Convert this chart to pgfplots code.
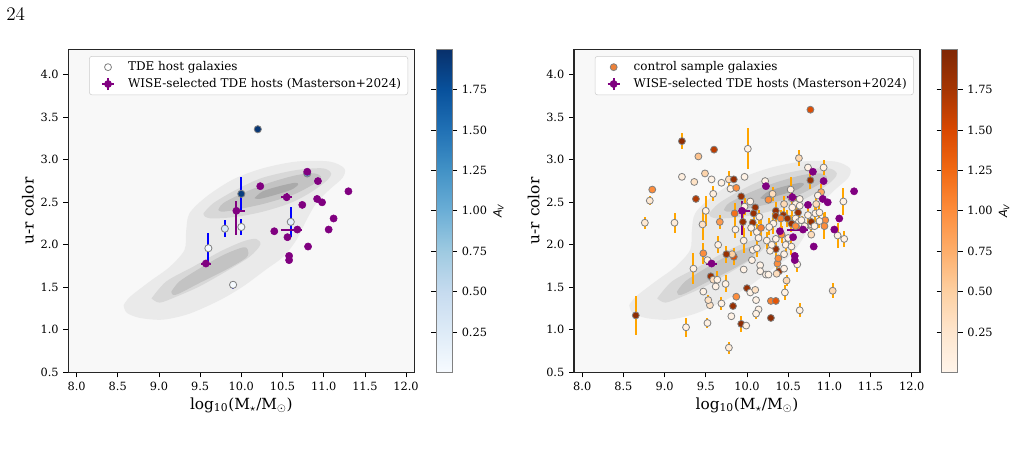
\documentclass[border=0pt]{standalone}
\usepackage{pgfplots}
\pgfplotsset{compat=1.18}
\usepackage{pgfplotstable}
\usepackage{fontspec}
\newfontfamily\dvserif{DejaVu Serif}
\newfontfamily\dvsans{DejaVu Sans}
\newcommand{\tickfont}{\dvserif\fontsize{8.5}{10}\selectfont}
\newcommand{\legfont}{\dvserif\fontsize{9.0}{11}\selectfont}
\newcommand{\labfont}{\dvserif\fontsize{11.5}{13}\selectfont}
\definecolor{wpurple}{RGB}{128,0,128}
\definecolor{bgc}{RGB}{248,248,248}
\definecolor{cA}{RGB}{234,234,234}
\definecolor{cB}{RGB}{216,216,216}
\definecolor{cC}{RGB}{195,195,195}
\definecolor{cD}{RGB}{170,170,170}
\definecolor{ctrlleg}{RGB}{236,128,56}
\definecolor{errorange}{RGB}{255,165,0}

\pgfplotsset{
  colormap={blues}{rgb255=(247,251,255) rgb255=(222,235,247) rgb255=(198,219,239) rgb255=(158,202,225) rgb255=(107,174,214) rgb255=(66,146,198) rgb255=(33,113,181) rgb255=(8,81,156) rgb255=(8,48,107)},
  colormap={oranges}{rgb255=(255,245,235) rgb255=(254,230,206) rgb255=(253,208,162) rgb255=(253,174,107) rgb255=(253,141,60) rgb255=(241,105,19) rgb255=(217,72,1) rgb255=(166,54,3) rgb255=(127,39,4)},
  colorbar shift/.style={xshift=16.3pt},
  panel/.style={
    scale only axis, width=259.5pt, height=242.25pt,
    xmin=7.9, xmax=12.1, ymin=0.5, ymax=4.3,
    xtick={8,8.5,...,12}, ytick={0.5,1,...,4},
    axis background/.style={fill=bgc},
    axis line style={black!85, line width=0.8pt},
    tick align=outside, tick pos=left,
    major tick length=3.75pt,
    tick style={black, line width=0.6pt},
    /pgf/number format/assume math mode=true,
    xticklabel style={font=\tickfont, /pgf/number format/.cd, fixed, fixed zerofill, precision=1},
    yticklabel style={font=\tickfont, /pgf/number format/.cd, fixed, fixed zerofill, precision=1},
    xlabel={log\textsubscript{10}(M\textsubscript{$\star$}/M\textsubscript{$\odot$})},
    ylabel={u-r color},
    xlabel style={font=\labfont, at={(axis description cs:0.5,-0.101)}, anchor=center},
    ylabel style={font=\labfont, at={(axis description cs:-0.1165,0.5)}, anchor=center, rotate=0},
    point meta min=0, point meta max=2,
    colorbar,
    colorbar style={
      at={(parent axis.north east)}, anchor=north west,
      width=12pt, scale only axis,
      axis line style={black!50, line width=0.8pt},
      ytick={0.25,0.5,0.75,1,1.25,1.5,1.75},
      yticklabel pos=right,
      major tick length=3.75pt,
      tick style={black, line width=0.6pt},
      tick align=outside,
      /pgf/number format/assume math mode=true,
      yticklabel style={font=\tickfont, /pgf/number format/.cd, fixed, fixed zerofill, precision=2},
      ylabel={{\dvsans\itshape A\textsubscript{V}}},
      ylabel style={font=\fontsize{8.5}{10}\selectfont, at={(axis description cs:3.9,0.5)}, anchor=center, rotate=0},
    },
    legend style={at={(1,1)}, anchor=north east, xshift=-4.7pt, yshift=-5pt,
      draw=black!20, fill=white, rounded corners=2pt,
      font=\legfont, cells={anchor=west}, row sep=0.3pt},
    legend cell align=left,
  },
  wiseleg/.style={legend image code/.code={
    \path[draw=none] (0pt,0pt) -- (24pt,0pt);
    \draw[wpurple, line width=1.5pt] (6.5pt,0pt) -- (15.5pt,0pt);
    \draw[wpurple, line width=1.5pt] (11pt,-4.5pt) -- (11pt,4.5pt);
    \fill[wpurple] (11pt,0pt) circle (2.7pt);}},
}

\newcommand{\contours}{%
\addplot[fill=cA, draw=none, smooth, forget plot] coordinates {
(8.57,1.29) (8.65,1.39) (8.89,1.57) (9.13,1.74) (9.31,1.94) (9.33,2.16) (9.37,2.37)
(9.58,2.57) (9.90,2.77) (10.26,2.90) (10.67,2.98) (11.07,2.98) (11.25,2.90) (11.23,2.79)
(11.07,2.65) (10.91,2.49) (10.79,2.29) (10.67,2.06) (10.51,1.86) (10.30,1.71) (10.02,1.51)
(9.74,1.35) (9.37,1.19) (9.05,1.12) (8.77,1.14) (8.61,1.20) (8.57,1.29)};
\addplot[fill=cB, draw=none, smooth, forget plot] coordinates {
(8.91,1.37) (9.09,1.57) (9.41,1.74) (9.74,1.92) (10.02,2.04) (10.18,2.07) (10.23,2.00)
(10.10,1.86) (9.82,1.69) (9.49,1.51) (9.21,1.39) (9.01,1.32) (8.91,1.37)};
\addplot[fill=cB, draw=none, smooth, forget plot] coordinates {
(9.54,2.37) (9.66,2.49) (9.94,2.65) (10.26,2.79) (10.67,2.88) (10.99,2.90) (11.09,2.84)
(11.03,2.75) (10.83,2.61) (10.59,2.49) (10.26,2.39) (9.94,2.33) (9.66,2.31) (9.56,2.33) (9.54,2.37)};
\addplot[fill=cC, draw=none, smooth, forget plot] coordinates {
(9.15,1.45) (9.25,1.57) (9.49,1.72) (9.78,1.88) (10.02,1.97) (10.08,1.94) (10.06,1.85)
(9.82,1.71) (9.49,1.55) (9.25,1.43) (9.17,1.41) (9.15,1.45)};
\addplot[fill=cC, draw=none, smooth, forget plot] coordinates {
(9.72,2.41) (9.78,2.49) (10.02,2.61) (10.34,2.73) (10.67,2.82) (10.89,2.84) (10.97,2.79)
(10.87,2.71) (10.63,2.59) (10.30,2.49) (10.02,2.43) (9.78,2.39) (9.72,2.41)};
\addplot[fill=cD, draw=none, smooth, forget plot] coordinates {
(10.16,2.55) (10.26,2.63) (10.46,2.69) (10.65,2.73) (10.69,2.71) (10.61,2.65) (10.42,2.59)
(10.22,2.54) (10.16,2.55)};
}

\pgfplotstableread{
x y a e
10.20 3.36 1.95 0.02
10.00 2.60 1.90 0.20
10.80 2.84 1.10 0.02
9.80 2.19 0.30 0.10
10.00 2.21 0.05 0.09
9.60 1.96 0.03 0.18
9.90 1.53 0.02 0.05
10.60 2.27 0.20 0.18
}\tde

\pgfplotstableread{
x y
10.80 2.86
10.23 2.69
10.93 2.75
11.30 2.63
10.92 2.54
10.98 2.50
10.74 2.47
11.12 2.31
10.40 2.16
10.56 2.09
11.06 2.18
10.81 1.98
10.58 1.87
10.58 1.82
}\wise

\pgfplotstableread{
x y xp xm yp ym
10.55 2.56 0.07 0.07 0.05 0.05
9.94 2.40 0.10 0.04 0.11 0.28
10.68 2.18 0.06 0.20 0.04 0.04
9.57 1.78 0.065 0.065 0.04 0.04
}\wiseerr

\pgfplotstableread{
x y a e
10.77 3.59 1.45 0
9.21 3.22 1.90 0.09
9.60 3.12 1.65 0
10.01 3.13 0.05 0.24
9.41 3.04 0.60 0
10.63 3.02 0.40 0.09
10.74 2.91 0.05 0
10.93 2.91 0.05 0.09
9.21 2.80 0.10 0
9.49 2.84 0.45 0
9.36 2.74 0.30 0
9.57 2.77 0.05 0
9.69 2.73 0.05 0
9.78 2.77 0.35 0.10
9.80 2.66 0.05 0
9.84 2.77 1.85 0
9.87 2.67 1.00 0
9.97 2.80 0.05 0
10.22 2.75 0.05 0
10.31 2.60 0.35 0.08
8.85 2.65 1.00 0
8.82 2.52 0.20 0.05
9.38 2.54 1.70 0
9.59 2.60 0.10 0.09
9.50 2.40 0.05 0.18
9.67 2.27 0.90 0.08
8.76 2.26 0.20 0.07
9.12 2.26 0.15 0.12
9.46 2.24 0.30 0.18
9.93 2.57 1.85 0
9.85 2.37 1.20 0.12
9.97 2.45 0.05 0.10
10.04 2.51 0.05 0
10.10 2.44 1.85 0
10.08 2.37 1.85 0.10
10.15 2.33 0.05 0.08
10.07 2.26 1.85 0
10.05 2.20 0.05 0.10
10.12 2.15 0.05 0.10
10.17 2.20 1.10 0.10
9.95 2.27 1.85 0.12
9.86 2.18 0.05 0.10
9.96 2.05 0.05 0.15
10.26 2.53 1.00 0
10.35 2.40 1.85 0.10
10.32 2.25 0.05 0.12
10.27 2.21 0.05 0.10
10.35 2.34 1.85 0.10
10.44 2.35 1.85 0
10.41 2.31 1.10 0.10
10.45 2.48 0.40 0.10
10.53 2.65 0.05 0.15
10.54 2.55 0.05 0
10.59 2.48 0.05 0.10
10.62 2.38 1.85 0.10
10.59 2.31 0.05 0.10
10.54 2.25 1.85 0.10
10.63 2.27 0.05 0.10
10.64 2.54 0.05 0
10.77 2.76 1.85 0.10
10.78 2.22 0.35 0.10
10.84 2.48 0.35 0.10
10.83 2.37 0.05 0.10
10.88 2.38 0.05 0.10
10.90 2.62 0.80 0.10
10.86 2.58 0.05 0
10.95 2.29 1.00 0.10
10.94 2.22 1.00 0.15
10.88 2.28 0.05 0.08
11.10 2.11 0.05 0.15
11.18 2.07 0.05 0.09
11.17 2.51 0.05 0.16
11.04 1.46 0.40 0.09
10.64 1.23 0.05 0.08
8.65 1.17 1.90 0.23
9.26 1.03 0.05 0.11
9.52 1.08 0.05 0.06
9.78 0.79 0.15 0.07
9.81 1.16 0.05 0
9.93 1.07 1.90 0.09
9.99 1.05 0.05 0
10.29 1.14 1.90 0
10.14 1.24 0.05 0
10.11 1.19 0.05 0.06
9.87 1.39 1.00 0
9.83 1.28 1.85 0
9.69 1.31 0.05 0.08
9.55 1.29 0.30 0
9.53 1.35 0.30 0.06
9.47 1.45 0.05 0
10.00 1.49 1.85 0
10.04 1.44 0.05 0
10.10 1.47 0.30 0
10.11 1.35 0.05 0
10.29 1.34 1.10 0
10.35 1.34 1.40 0
10.46 1.44 0.05 0.09
10.48 1.58 0.40 0.07
10.39 1.69 1.85 0
10.36 1.66 0.35 0
10.37 1.78 1.00 0.08
10.35 1.95 1.85 0.10
10.28 1.93 0.05 0
10.24 2.05 0.05 0.10
10.07 1.94 0.05 0
10.12 1.96 0.05 0.10
10.06 1.82 0.05 0
10.16 1.76 0.05 0
10.16 1.69 0.05 0
10.23 1.65 0.05 0
10.26 1.65 0.05 0
9.96 1.71 0.05 0
9.84 1.86 1.45 0.10
9.82 1.89 0.50 0
9.75 1.89 1.85 0.10
9.65 2.00 0.05 0.10
9.47 1.90 1.00 0.12
9.52 1.82 0.05 0
9.56 1.63 1.85 0
9.59 1.59 0.35 0
9.64 1.59 0.05 0.10
9.62 1.51 0.05 0
9.74 1.54 0.05 0.10
9.35 1.72 0.05 0.18
10.45 1.72 0.05 0
10.47 2.00 0.05 0.10
10.45 1.89 0.05 0
10.61 1.77 0.05 0.09
10.54 1.98 0.05 0.10
10.35 2.07 0.05 0
10.42 2.12 1.00 0.10
10.50 2.08 0.05 0
10.67 2.24 0.05 0.10
10.78 2.24 0.05 0
10.55 2.44 0.05 0.10
10.64 2.46 0.05 0
10.49 2.31 1.85 0.10
10.59 2.22 1.00 0
10.66 2.29 0.05 0
10.74 2.35 0.05 0.10
10.78 2.27 1.85 0
10.82 2.22 0.05 0
10.70 2.22 0.05 0
10.78 2.12 0.35 0
10.14 2.08 0.05 0
10.30 2.00 0.05 0
10.38 1.84 1.00 0
}\ctrl

\newcommand{\wiseplots}{%
\addplot[only marks, mark=*, mark size=2.7pt, color=wpurple, forget plot,
  error bars/.cd, x dir=both, y dir=both, x explicit, y explicit,
  error bar style={line width=1.5pt, color=wpurple}, error mark=none]
  table[x=x, y=y, x error plus=xp, x error minus=xm, y error plus=yp, y error minus=ym]{\wiseerr};
\addplot[only marks, mark=*, mark size=2.7pt, color=wpurple, forget plot] table[x=x, y=y]{\wise};
}

\begin{document}
\begin{tikzpicture}
\path[use as bounding box] (0,0) rectangle (763.5pt,-346.5pt);
\node[anchor=base west, inner sep=0pt, font=\fontsize{14.4}{16}\selectfont] at (4.5pt,-15pt) {24};

% left panel
\begin{axis}[panel, at={(51.25pt,-37pt)}, anchor=north west, colormap name=blues]
\addlegendimage{legend image code/.code={\path[draw=none] (0pt,0pt) -- (24pt,0pt); \draw[gray, fill=white, line width=0.6pt] (11pt,0pt) circle (2.6pt);}}
\addlegendentry{TDE host galaxies}
\addlegendimage{wiseleg}
\addlegendentry{WISE-selected TDE hosts (Masterson+2024)}
\contours
\addplot[scatter, only marks, mark=*, mark size=2.7pt, point meta=explicit,
  scatter/use mapped color={draw=gray, fill=mapped color},
  mark options={line width=0.6pt}, forget plot,
  error bars/.cd, y dir=both, y explicit,
  error bar style={line width=1.5pt, color=blue}, error mark=none]
  table[x=x, y=y, y error=e, meta=a]{\tde};
\wiseplots
\end{axis}

% right panel
\begin{axis}[panel, at={(430.5pt,-37pt)}, anchor=north west, colormap name=oranges]
\addlegendimage{legend image code/.code={\path[draw=none] (0pt,0pt) -- (24pt,0pt); \draw[gray, fill=ctrlleg, line width=0.6pt] (11pt,0pt) circle (2.6pt);}}
\addlegendentry{control sample galaxies}
\addlegendimage{wiseleg}
\addlegendentry{WISE-selected TDE hosts (Masterson+2024)}
\contours
\addplot[scatter, only marks, mark=*, mark size=2.6pt, point meta=explicit,
  scatter/use mapped color={draw=gray, fill=mapped color},
  mark options={line width=0.6pt}, forget plot,
  error bars/.cd, y dir=both, y explicit,
  error bar style={line width=1.5pt, color=errorange}, error mark=none]
  table[x=x, y=y, y error=e, meta=a]{\ctrl};
\wiseplots
\end{axis}
\end{tikzpicture}
\end{document}
